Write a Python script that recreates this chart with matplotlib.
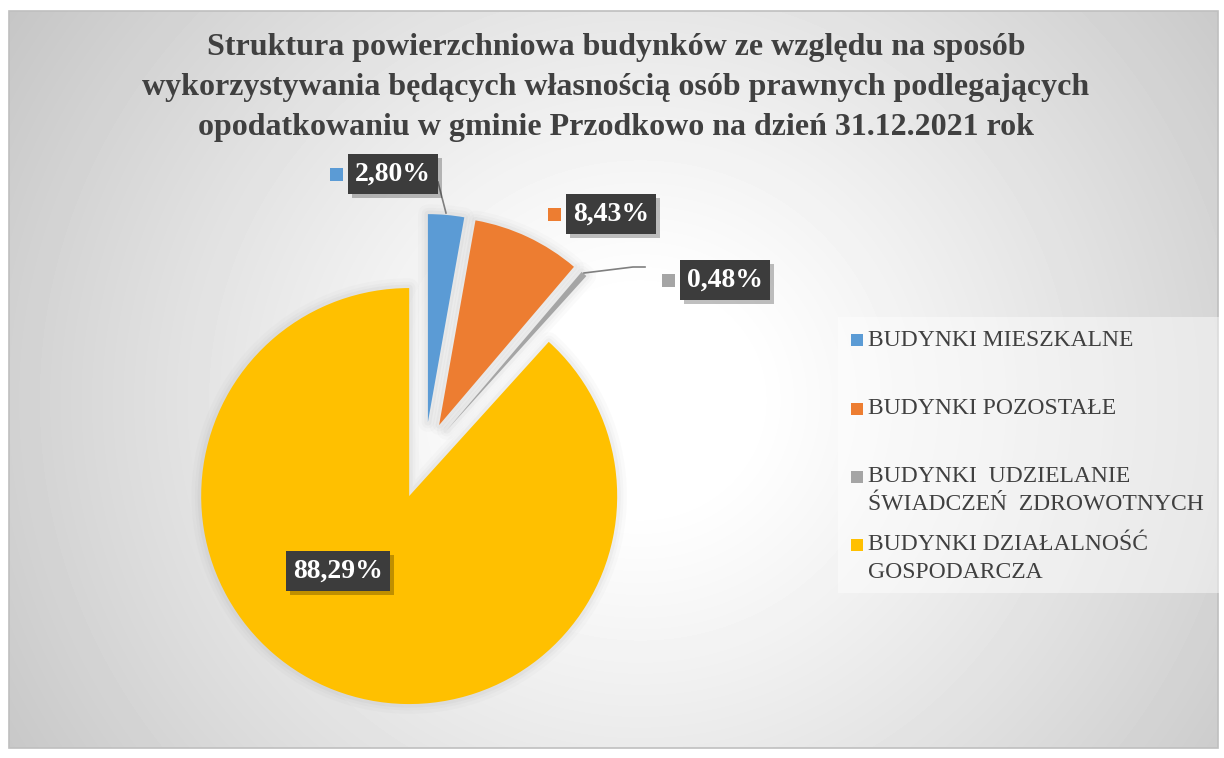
import numpy as np
import matplotlib
matplotlib.use("Agg")
import matplotlib.pyplot as plt
import matplotlib.patheffects as pe
from matplotlib.patches import Rectangle, Wedge

# data
categories = ["BUDYNKI MIESZKALNE", "BUDYNKI POZOSTAŁE",
              "BUDYNKI  UDZIELANIE\nŚWIADCZEŃ  ZDROWOTNYCH",
              "BUDYNKI DZIAŁALNOŚĆ\nGOSPODARCZA"]
shares = [2.80, 8.43, 0.48, 88.29]
colors = ["#5b9bd5", "#ed7d31", "#a5a5a5", "#ffc000"]
title_lines = ["Struktura powierzchniowa budynków ze względu na sposób",
               "wykorzystywania będących własnością osób prawnych podlegających",
               "opodatkowaniu w gminie Przodkowo na dzień 31.12.2021 rok"]

W, H = 1224, 758
SERIF = ["Liberation Serif", "DejaVu Serif"]
TXT = "#404040"

fig = plt.figure(figsize=(W / 100, H / 100), dpi=100)
ax = fig.add_axes([0, 0, 1, 1])


def fy(y):
    # image rows -> data y
    return H - y


# background: radial gradient inside the chart area
x0, x1, y0, y1 = 9, 1218, 11, 748
gx, gy = np.meshgrid(np.arange(x0, x1), np.arange(y0, y1))
d = np.hypot(gx - 640, (gy - 400) * 1.05)
t = np.clip((d - 110) / 640, 0, 1)
shade = 1 - 0.225 * t ** 1.1
ax.imshow(shade, cmap="gray", vmin=0, vmax=1, extent=(x0, x1, fy(y1), fy(y0)),
          zorder=0, interpolation="bilinear", aspect="auto")
ax.add_patch(Rectangle((x0, fy(y1)), x1 - x0, y1 - y0, fill=False,
                       edgecolor="#bfbfbf", lw=1.2, zorder=1))

# pie
wedges, _ = ax.pie(shares, colors=colors, startangle=90, counterclock=False,
                   radius=208, center=(425, fy(455)),
                   explode=[33, 33, 33, 44], wedgeprops=dict(linewidth=0, zorder=3))
for w in wedges:
    for lw, a in [(14, 0.03), (9, 0.04), (5, 0.06)]:
        ax.add_patch(Wedge(w.center, w.r, w.theta1, w.theta2, facecolor="none",
                           edgecolor="#7f7f7f", lw=lw, alpha=a, zorder=2,
                           joinstyle="round"))

ax.set_xlim(0, W)
ax.set_ylim(0, H)
ax.set_aspect("auto")
ax.axis("off")

# leader lines
ax.plot([438, 446], [fy(182), fy(213)], color="#7f7f7f", lw=1.2, zorder=4)
ax.plot([584, 633, 645], [fy(273), fy(267), fy(267)], color="#7f7f7f", lw=1.2, zorder=4)

# data labels
plt.rcParams["hatch.color"] = "#555555"
plt.rcParams["hatch.linewidth"] = 0.6
label_pos = [(393, 174), (611, 214), (725, 280), (338, 571)]
for v, c, (lx, ly) in zip(shares, colors, label_pos):
    s = f"{v:.2f}".replace(".", ",") + "%"
    lab = ax.text(lx, fy(ly), s, fontsize=20, fontweight="bold", family=SERIF,
                  color="white", ha="center", va="center", zorder=6,
                  bbox=dict(boxstyle="square,pad=0.26", facecolor="#3c3c3c",
                            edgecolor="none", hatch="..."))
    lab.get_bbox_patch().set_path_effects(
        [pe.SimplePatchShadow(offset=(3, -3), shadow_rgbFace="black", alpha=0.25),
         pe.Normal()])
    if v < 50:
        ax.add_patch(Rectangle((lx - 63.5, fy(ly + 6.5)), 13, 13, facecolor=c,
                               edgecolor="none", zorder=6))

# title
for i, line in enumerate(title_lines):
    fig.text(616 / W, 1 - (48 + 40 * i) / H, line, ha="center", va="center",
             fontsize=23, fontweight="bold", family=SERIF, color=TXT)

# legend
ax.add_patch(Rectangle((838, fy(593)), 384, 276, facecolor="white", alpha=0.45,
                       edgecolor="none", zorder=2))
leg_y = [340, 409, 477, 545]
for name, c, ly in zip(categories, colors, leg_y):
    ax.add_patch(Rectangle((851, fy(ly + 6)), 12, 12, facecolor=c,
                           edgecolor="none", zorder=4))
    for k, part in enumerate(name.split("\n")):
        ax.text(868, fy(ly + 27 * k), part, fontsize=17, family=SERIF, color=TXT,
                ha="left", va="center", zorder=4)

fig.savefig("out.png", dpi=100, facecolor="white")
